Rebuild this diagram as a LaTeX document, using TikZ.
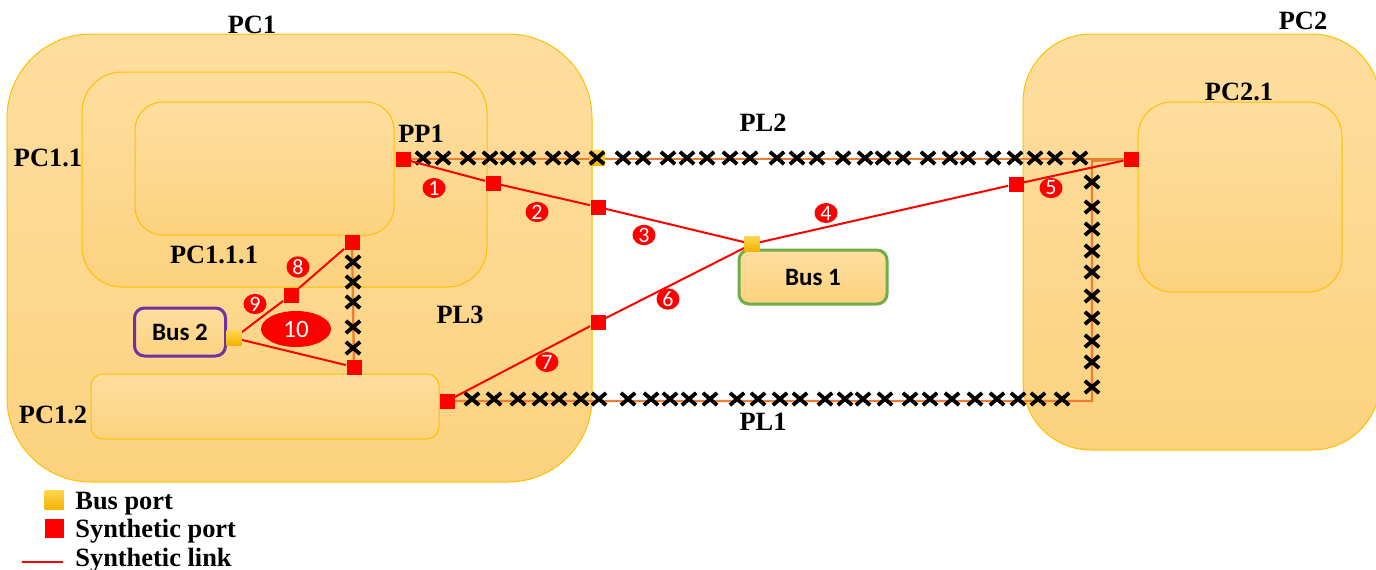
\documentclass[tikz,border=0pt]{standalone}
\usepackage{fontspec}
\setmainfont{Liberation Serif}
\newfontfamily\busfont{Carlito}
\usetikzlibrary{shapes.geometric,shapes.misc}
\definecolor{pctop}{HTML}{FEDE9F}
\definecolor{pcbot}{HTML}{FCD27F}
\definecolor{pcedge}{HTML}{FFC000}
\definecolor{plorange}{HTML}{ED7D31}
\definecolor{busgreen}{HTML}{70AD47}
\definecolor{buspurple}{HTML}{7030A0}
\definecolor{yporttop}{HTML}{FFD54F}
\definecolor{yportbot}{HTML}{F2B200}
\tikzset{
  pcbox/.style={draw=pcedge,line width=0.5pt,top color=pctop,bottom color=pcbot},
  pclabel/.style={font=\bfseries\fontsize{13.2}{15}\selectfont,inner sep=0pt},
  sport/.style={rectangle,fill=red,minimum size=7.5pt,inner sep=0pt},
  bport/.style={rectangle,top color=yporttop,bottom color=yportbot,minimum size=7.5pt,inner sep=0pt},
  xmk/.style={cross out,draw=black,line width=1.9pt,minimum width=5.2pt,minimum height=4.2pt,inner sep=0pt},
  plink/.style={draw=plorange,line width=1.2pt},
  slink/.style={draw=red,line width=1pt},
  numtag/.style={ellipse,fill=red,text=white,inner sep=0pt,minimum width=11.5pt,minimum height=9.5pt,
    font=\busfont\fontsize{11}{11}\selectfont},
  busbox/.style={rectangle,rounded corners=5pt,line width=1.5pt,top color=pctop,bottom color=pcbot,
    font=\busfont\bfseries\fontsize{12.5}{14}\selectfont}
}
\begin{document}
\begin{tikzpicture}[x=0.5pt,y=-0.5pt]
  \useasboundingbox (0,0) rectangle (1376,569);
  \path[pcbox,rounded corners=42pt] (7,34) rectangle (592,482);
  \path[pcbox,rounded corners=20pt] (82,72) rectangle (487,287);
  \path[pcbox,rounded corners=14pt] (135,102) rectangle (394,235);
  \path[pcbox,rounded corners=6pt] (91,374) rectangle (439,439);
  \path[pcbox,rounded corners=34pt] (1023,34) rectangle (1380,450);
  \path[pcbox,rounded corners=17pt] (1138,102) rectangle (1342,292);

  \node[pclabel] (lpcone) at (252,25) {PC1};
  \node[pclabel] (lpconeone) at (48,158) {PC1.1};
  \node[pclabel] (lpconeoneone) at (214,255) {PC1.1.1};
  \node[pclabel] (lpconetwo) at (53,415) {PC1.2};
  \node[pclabel] (lppone) at (421,134) {PP1};
  \node[pclabel] (lpltwo) at (763,123) {PL2};
  \node[pclabel] (lplthree) at (460,315) {PL3};
  \node[pclabel] (lplone) at (763,422) {PL1};
  \node[pclabel] (lpctwo) at (1303,21) {PC2};
  \node[pclabel] (lpctwoone) at (1239,92) {PC2.1};

  \node[busbox,draw=busgreen,minimum width=74pt,minimum height=27pt] (busone) at (813,277) {Bus 1};
  \node[busbox,draw=buspurple,minimum width=45.5pt,minimum height=24pt] (bustwo) at (180,332) {Bus 2};

  \coordinate (pp1) at (403,159);
  \coordinate (pctwo) at (1131,159);
  \coordinate (pseven) at (447,401);
  \coordinate (peight) at (352,242);
  \coordinate (pten) at (354,367);
  \coordinate (plone-a) at (1092,401);
  \coordinate (plone-b) at (1092,161);
  \draw[plink] (pp1) -- (pctwo);
  \draw[plink] (pseven) -- (plone-a) -- (plone-b) -- (pctwo);
  \draw[plink] (peight) -- (pten);

  \node[bport] (bportpl) at (597,158) {};
  \foreach \x in {423,443,468,490,508,528,553,572,597,623,643,668,687,707,730,750,777,797,817,
    843,865,883,903,928,950,968,993,1015,1035,1055,1080}
    \node[xmk] (xa-\x) at (\x,158) {};
  \foreach \x in {472,494,518,540,559,581,599,628,651,670,689,710,737,758,780,800,825,845,863,
    885,910,930,952,975,997,1018,1038,1062}
    \node[xmk] (xb-\x) at (\x,399) {};
  \foreach \y in {182,207,229,251,272,296,318,341,362,387}
    \node[xmk] (xc-\y) at (1092,\y) {};
  \foreach \y in {262,282,302,327,348}
    \node[xmk] (xd-\y) at (353,\y) {};

  \node[sport] (portpp1) at (pp1) {};
  \node[sport] (pone) at (493,183) {};
  \node[sport] (ptwo) at (598,207) {};
  \node[bport] (bportone) at (752,244) {};
  \node[sport] (pfive) at (1016,184) {};
  \node[sport] (portpctwo) at (pctwo) {};
  \node[sport] (psix) at (598,322) {};
  \node[sport] (portseven) at (pseven) {};
  \node[sport] (porteight) at (peight) {};
  \node[sport] (pnine) at (291,295) {};
  \node[bport] (bporttwo) at (234,338) {};
  \node[sport] (portten) at (pten) {};

  \draw[slink] (portpp1) -- (pone) -- (ptwo) -- (bportone) -- (pfive) -- (portpctwo);
  \draw[slink] (bportone) -- (psix) -- (portseven);
  \draw[slink] (porteight) -- (pnine) -- (bporttwo) -- (portten);
  \foreach \n in {portpp1,pone,ptwo,pfive,portpctwo,psix,portseven,porteight,pnine,portten}
    \node[sport] at (\n) {};
  \node[bport] at (bportone) {};
  \node[bport] at (bporttwo) {};

  \node[numtag] (n1) at (434,188) {1};
  \node[numtag] (n2) at (537,212) {2};
  \node[numtag] (n3) at (644,235) {3};
  \node[numtag] (n4) at (826,213) {4};
  \node[numtag] (n5) at (1051,188) {5};
  \node[numtag] (n6) at (668,299) {6};
  \node[numtag] (n7) at (547,362) {7};
  \node[numtag] (n8) at (298,267) {8};
  \node[numtag] (n9) at (255,304) {9};
  \node[numtag,minimum width=35pt,minimum height=18pt,font=\busfont\fontsize{12.5}{12}\selectfont] (n10) at (296,329) {10};

  \node[bport,minimum size=9.5pt] (legbport) at (54,500) {};
  \node[sport,minimum size=9.5pt] (legsport) at (54,528) {};
  \coordinate (leglinea) at (22,562);
  \coordinate (leglineb) at (63,562);
  \draw[slink] (leglinea) -- (leglineb);
  \node[pclabel,anchor=base west] (legbtext) at (75,509) {Bus port};
  \node[pclabel,anchor=base west] (legstext) at (75,537) {Synthetic port};
  \node[pclabel,anchor=base west] (legltext) at (75,566) {Synthetic link};
\end{tikzpicture}
\end{document}
